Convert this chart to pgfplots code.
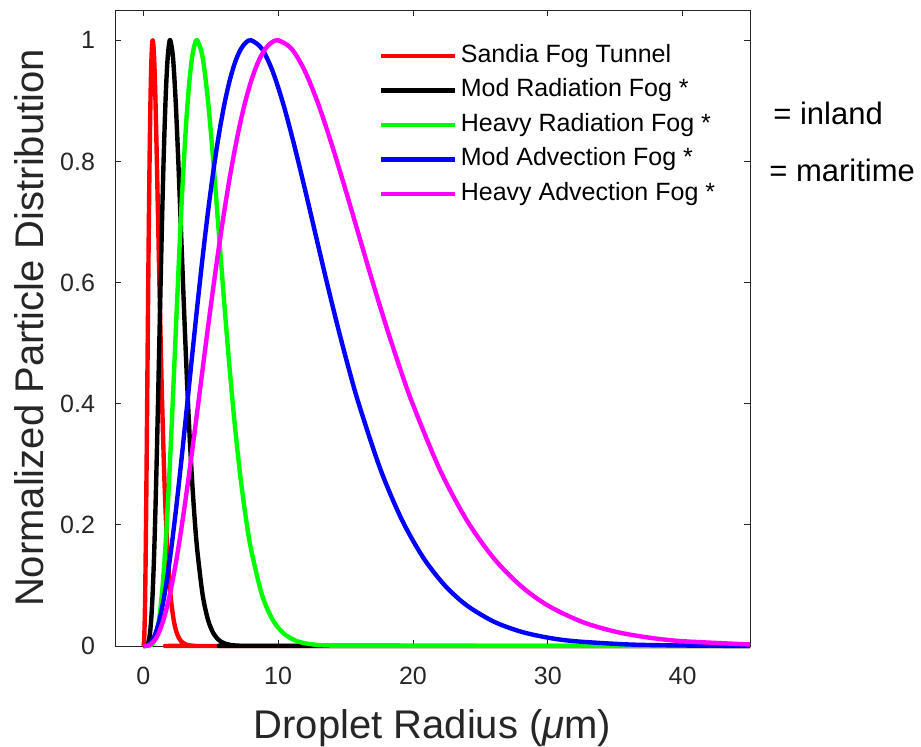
\documentclass[border=0pt]{standalone}
\usepackage{fontspec}
\setmainfont{Liberation Sans}
\usepackage{pgfplots}
\pgfplotsset{compat=1.18}
\usepackage{pgfplotstable}
\definecolor{axgray}{RGB}{38,38,38}
\definecolor{cred}{RGB}{255,0,0}
\definecolor{cgreen}{RGB}{0,255,0}
\definecolor{cblue}{RGB}{0,0,255}
\definecolor{cmag}{RGB}{255,0,255}

% normalized modified-gamma size distributions, peak = 1
\pgfplotstableread{
x y
0 0
0.035 0.00216
0.07 0.0149
0.105 0.0432
0.14 0.0882
0.175 0.1483
0.21 0.2205
0.245 0.3013
0.28 0.3871
0.315 0.4746
0.35 0.5603
0.385 0.6418
0.42 0.7172
0.455 0.7848
0.49 0.8436
0.525 0.8931
0.56 0.9329
0.595 0.9633
0.63 0.9842
0.665 0.9961
0.7 1
0.77 0.9859
0.84 0.9484
0.91 0.8933
0.98 0.8263
1.05 0.7531
1.12 0.6771
1.19 0.6016
1.26 0.5291
1.33 0.4610
1.4 0.3984
1.54 0.2909
1.68 0.2073
1.82 0.1446
1.96 0.0991
2.1 0.0669
2.275 0.0402
2.45 0.0237
2.625 0.0138
2.8 0.0079
3.15 0.0025
3.5 0.0008
3.85 0.0002
4.2 0
45 0
}\sandia

\pgfplotstableread{
x y
0 0
0.1 0.000005
0.2 0.00022
0.3 0.0019
0.4 0.0078
0.5 0.0220
0.6 0.0486
0.7 0.0908
0.8 0.1498
0.9 0.2252
1.0 0.3139
1.1 0.4119
1.2 0.5144
1.3 0.6159
1.4 0.7117
1.5 0.7976
1.6 0.8703
1.7 0.9279
1.8 0.9687
1.9 0.9922
2.0 1
2.2 0.9720
2.4 0.8995
2.6 0.7980
2.8 0.6828
3.0 0.5672
3.2 0.4585
3.4 0.3619
3.6 0.2799
3.8 0.2125
4.0 0.1587
4.4 0.0846
4.8 0.0430
5.2 0.0209
5.6 0.0098
6.0 0.0045
6.5 0.0016
7.0 0.0006
7.5 0.0002
8.0 0.0001
45 0
}\modrad

\pgfplotstableread{
x y
0 0
0.2 0.000005
0.4 0.00022
0.6 0.0019
0.8 0.0078
1.0 0.0220
1.2 0.0486
1.4 0.0908
1.6 0.1498
1.8 0.2252
2.0 0.3139
2.2 0.4119
2.4 0.5144
2.6 0.6159
2.8 0.7117
3.0 0.7976
3.2 0.8703
3.4 0.9279
3.6 0.9687
3.8 0.9922
4.0 1
4.4 0.9720
4.8 0.8995
5.2 0.7980
5.6 0.6828
6.0 0.5672
6.4 0.4585
6.8 0.3619
7.2 0.2799
7.6 0.2125
8.0 0.1587
8.8 0.0846
9.6 0.0430
10.4 0.0209
11.2 0.0098
12.0 0.0045
13.0 0.0016
14.0 0.0006
15.0 0.0002
16.0 0.0001
45 0
}\heavyrad

\pgfplotstableread{
x y
0 0
0.4 0.00216
0.8 0.0149
1.2 0.0432
1.6 0.0882
2.0 0.1483
2.4 0.2205
2.8 0.3013
3.2 0.3871
3.6 0.4746
4.0 0.5603
4.4 0.6418
4.8 0.7172
5.2 0.7848
5.6 0.8436
6.0 0.8931
6.4 0.9329
6.8 0.9633
7.2 0.9842
7.6 0.9961
8.0 1
8.8 0.9859
9.6 0.9484
10.4 0.8933
11.2 0.8263
12.0 0.7531
12.8 0.6771
13.6 0.6016
14.4 0.5291
15.2 0.4610
16.0 0.3984
17.6 0.2909
19.2 0.2073
20.8 0.1446
22.4 0.0991
24.0 0.0669
26.0 0.0402
28.0 0.0237
30.0 0.0138
32.0 0.0079
36.0 0.0025
40.0 0.0008
44.0 0.0002
45.0 0.0002
}\modadv

\pgfplotstableread{
x y
0 0
0.5 0.00216
1.0 0.0149
1.5 0.0432
2.0 0.0882
2.5 0.1483
3.0 0.2205
3.5 0.3013
4.0 0.3871
4.5 0.4746
5.0 0.5603
5.5 0.6418
6.0 0.7172
6.5 0.7848
7.0 0.8436
7.5 0.8931
8.0 0.9329
8.5 0.9633
9.0 0.9842
9.5 0.9961
10 1
11 0.9859
12 0.9484
13 0.8933
14 0.8263
15 0.7531
16 0.6771
17 0.6016
18 0.5291
19 0.4610
20 0.3984
22 0.2909
24 0.2073
26 0.1446
28 0.0991
30 0.0669
32.5 0.0402
35 0.0237
37.5 0.0138
40 0.0079
45 0.0025
}\heavyadv

\begin{document}
\begin{tikzpicture}[x=1pt,y=1pt]
\useasboundingbox (0,0) rectangle (460.5,373.5);
\begin{axis}[
  at={(57.5pt,50.5pt)}, anchor=south west,
  scale only axis, width=317.5pt, height=318pt,
  xmin=-2.1, xmax=45, ymin=0, ymax=1.05,
  xtick={0,10,20,30,40},
  ytick={0,0.2,0.4,0.6,0.8,1},
  axis line style={axgray, line width=0.4pt},
  tick style={axgray, line width=0.4pt},
  major tick length=3pt,
  tick label style={text=axgray, font=\fontsize{12.5}{15}\selectfont},
  /pgf/number format/assume math mode=true,
  xticklabel style={yshift=-7pt},
  yticklabel style={xshift=-6.5pt},
  xlabel={Droplet Radius ({\itshape μ}m)},
  ylabel={Normalized Particle Distribution},
  xlabel style={at={(axis description cs:0.5,-0.1447)}, anchor=base,
    font=\fontsize{20}{24}\selectfont, text=axgray},
  ylabel style={at={(axis description cs:-0.135,0.5)}, anchor=center,
    font=\fontsize{20}{24}\selectfont, text=axgray},
  clip=false,
  every axis plot/.append style={line width=2.2pt, line join=round, smooth, tension=0.5},
  legend cell align=left,
  legend image code/.code={\draw[#1] (0pt,0pt) -- (37pt,0pt);},
  legend style={at={(axis description cs:0.415,0.947)}, anchor=north west,
    draw=none, fill=none, inner sep=0pt, row sep=5.25pt,
    font=\fontsize{12.5}{15}\selectfont,
    nodes={inner xsep=1.75pt, inner ysep=0pt, text height=9pt, text depth=3pt}},
]
\addplot[cred] table {\sandia};
\addlegendentry{Sandia Fog Tunnel}
\addplot[black] table {\modrad};
\addlegendentry{Mod Radiation Fog *}
\addplot[cgreen] table {\heavyrad};
\addlegendentry{Heavy Radiation Fog *}
\addplot[cblue] table {\modadv};
\addlegendentry{Mod Advection Fog *}
\addplot[cmag] table {\heavyadv};
\addlegendentry{Heavy Advection Fog *}
\end{axis}
\node[anchor=west, inner sep=0pt, font=\fontsize{15.5}{18}\selectfont] at (386.5,317) {= inland};
\node[anchor=west, inner sep=0pt, font=\fontsize{15.5}{18}\selectfont] at (384.5,288.5) {= maritime};
\end{tikzpicture}
\end{document}
